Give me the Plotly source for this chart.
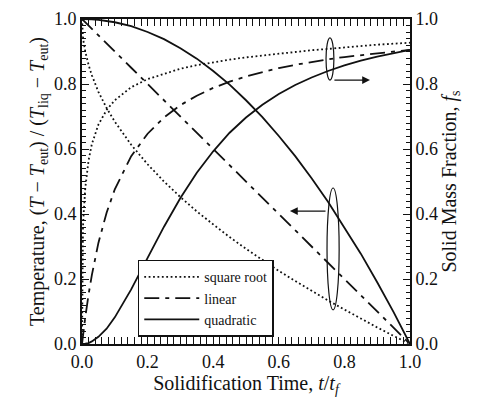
import plotly.graph_objects as go

# ---- data ----
t_norm = [0, 0.001, 0.003, 0.005, 0.01, 0.02, 0.03, 0.05, 0.075, 0.1, 0.15, 0.2, 0.25, 0.3,
          0.35, 0.4, 0.45, 0.5, 0.55, 0.6, 0.65, 0.7, 0.75, 0.8, 0.85, 0.9, 0.95, 1.0]

temp_sqrt = [1, 0.968, 0.945, 0.929, 0.9, 0.859, 0.827, 0.776, 0.726, 0.684, 0.613, 0.553, 0.5,
             0.452, 0.408, 0.368, 0.329, 0.293, 0.258, 0.225, 0.194, 0.163, 0.134, 0.106, 0.078,
             0.051, 0.025, 0]
temp_linear = [1, 0.999, 0.997, 0.995, 0.99, 0.98, 0.97, 0.95, 0.925, 0.9, 0.85, 0.8, 0.75, 0.7,
               0.65, 0.6, 0.55, 0.5, 0.45, 0.4, 0.35, 0.3, 0.25, 0.2, 0.15, 0.1, 0.05, 0]
temp_quad = [1, 1, 1, 1, 1, 0.9996, 0.9991, 0.9975, 0.994, 0.99, 0.978, 0.96, 0.938, 0.91, 0.878,
             0.84, 0.798, 0.75, 0.698, 0.64, 0.578, 0.51, 0.438, 0.36, 0.278, 0.19, 0.098, 0]

fs_sqrt = [0, 0.24, 0.36, 0.40, 0.48, 0.565, 0.615, 0.675, 0.72, 0.75, 0.79, 0.815, 0.832, 0.847,
           0.858, 0.867, 0.875, 0.882, 0.888, 0.894, 0.899, 0.904, 0.908, 0.913, 0.917, 0.921,
           0.924, 0.927]
fs_linear = [0, 0.009, 0.026, 0.043, 0.082, 0.152, 0.212, 0.311, 0.404, 0.476, 0.578, 0.647, 0.697,
             0.735, 0.764, 0.788, 0.807, 0.823, 0.837, 0.849, 0.859, 0.868, 0.876, 0.883, 0.889,
             0.895, 0.9, 0.905]
fs_quad = [0, 0, 0, 0, 0.001, 0.003, 0.008, 0.022, 0.047, 0.082, 0.168, 0.265, 0.361, 0.449, 0.527,
           0.593, 0.65, 0.697, 0.736, 0.769, 0.797, 0.82, 0.84, 0.857, 0.872, 0.884, 0.895, 0.905]

series_names = ["square root", "linear", "quadratic"]
tick_vals = [0, 0.2, 0.4, 0.6, 0.8, 1.0]
tick_text = ["0.0", "0.2", "0.4", "0.6", "0.8", "1.0"]

# ---- styling ----
FONT = "Liberation Serif"
INK = "#111111"
dash_styles = ["1.8px,2.6px", "15px,6px,4px,6px", "solid"]
line_w = [1.8, 1.8, 1.8]

fig = go.Figure()
temps = [temp_sqrt, temp_linear, temp_quad]
fracs = [fs_sqrt, fs_linear, fs_quad]
for i, name in enumerate(series_names):
    fig.add_trace(go.Scatter(x=t_norm, y=temps[i], mode="lines", name=name,
                             line=dict(color=INK, width=line_w[i], dash=dash_styles[i]),
                             legendgroup=name, showlegend=True))
for i, name in enumerate(series_names):
    fig.add_trace(go.Scatter(x=t_norm, y=fracs[i], mode="lines", name=name, yaxis="y2",
                             line=dict(color=INK, width=line_w[i], dash=dash_styles[i]),
                             legendgroup=name, showlegend=False))

axis_common = dict(range=[0, 1], tickvals=tick_vals, ticktext=tick_text, ticks="inside",
                   ticklen=7, tickwidth=1.2, tickcolor=INK, showgrid=False, zeroline=False,
                   showline=True, linecolor=INK, linewidth=2, automargin=False,
                   tickfont=dict(family=FONT, size=18, color=INK),
                   minor=dict(dtick=0.02, ticks="inside", ticklen=4, tickwidth=1, tickcolor=INK))

fig.update_layout(
    width=479, height=399,
    margin=dict(l=82, r=69, t=19, b=55, autoexpand=False),
    paper_bgcolor="white", plot_bgcolor="white",
    font=dict(family=FONT, color=INK),
    xaxis=dict(**axis_common, mirror="allticks",
               title=dict(text="Solidification Time, <i>t</i>/<i>t</i><sub><i>f</i></sub>",
                          font=dict(family=FONT, size=20, color=INK), standoff=4)),
    yaxis=dict(**axis_common, mirror=True,
               title=dict(text="Temperature, (<i>T</i> − <i>T</i><sub>eut</sub>) / (<i>T</i><sub>liq</sub> − <i>T</i><sub>eut</sub>)",
                          font=dict(family=FONT, size=20, color=INK), standoff=4)),
    yaxis2=dict(**axis_common, overlaying="y", side="right",
                title=dict(text="Solid Mass Fraction, <i>f</i><sub>s</sub>",
                           font=dict(family=FONT, size=20, color=INK), standoff=4)),
    legend=dict(x=0.17, y=0.022, xanchor="left", yanchor="bottom", bgcolor="white",
                bordercolor=INK, borderwidth=1.5, font=dict(family=FONT, size=14, color=INK),
                tracegroupgap=0, itemwidth=55),
    showlegend=True,
)

# ellipses marking curve groups
fig.add_shape(type="circle", xref="x", yref="y", x0=0.744, x1=0.768, y0=0.812, y1=0.942,
              line=dict(color=INK, width=1.2))
fig.add_shape(type="circle", xref="x", yref="y", x0=0.747, x1=0.784, y0=0.105, y1=0.48,
              line=dict(color=INK, width=1.2))
# arrows
fig.add_annotation(x=0.878, y=0.812, ax=0.765, ay=0.812, xref="x", yref="y", axref="x", ayref="y",
                   text="", showarrow=True, arrowhead=2, arrowsize=1.3, arrowwidth=1.2,
                   arrowcolor=INK)
fig.add_annotation(x=0.634, y=0.409, ax=0.747, ay=0.409, xref="x", yref="y", axref="x", ayref="y",
                   text="", showarrow=True, arrowhead=2, arrowsize=1.3, arrowwidth=1.2,
                   arrowcolor=INK)

fig.write_html("out.html", config={"displayModeBar": False},
               post_script="document.body.style.margin='0';")
